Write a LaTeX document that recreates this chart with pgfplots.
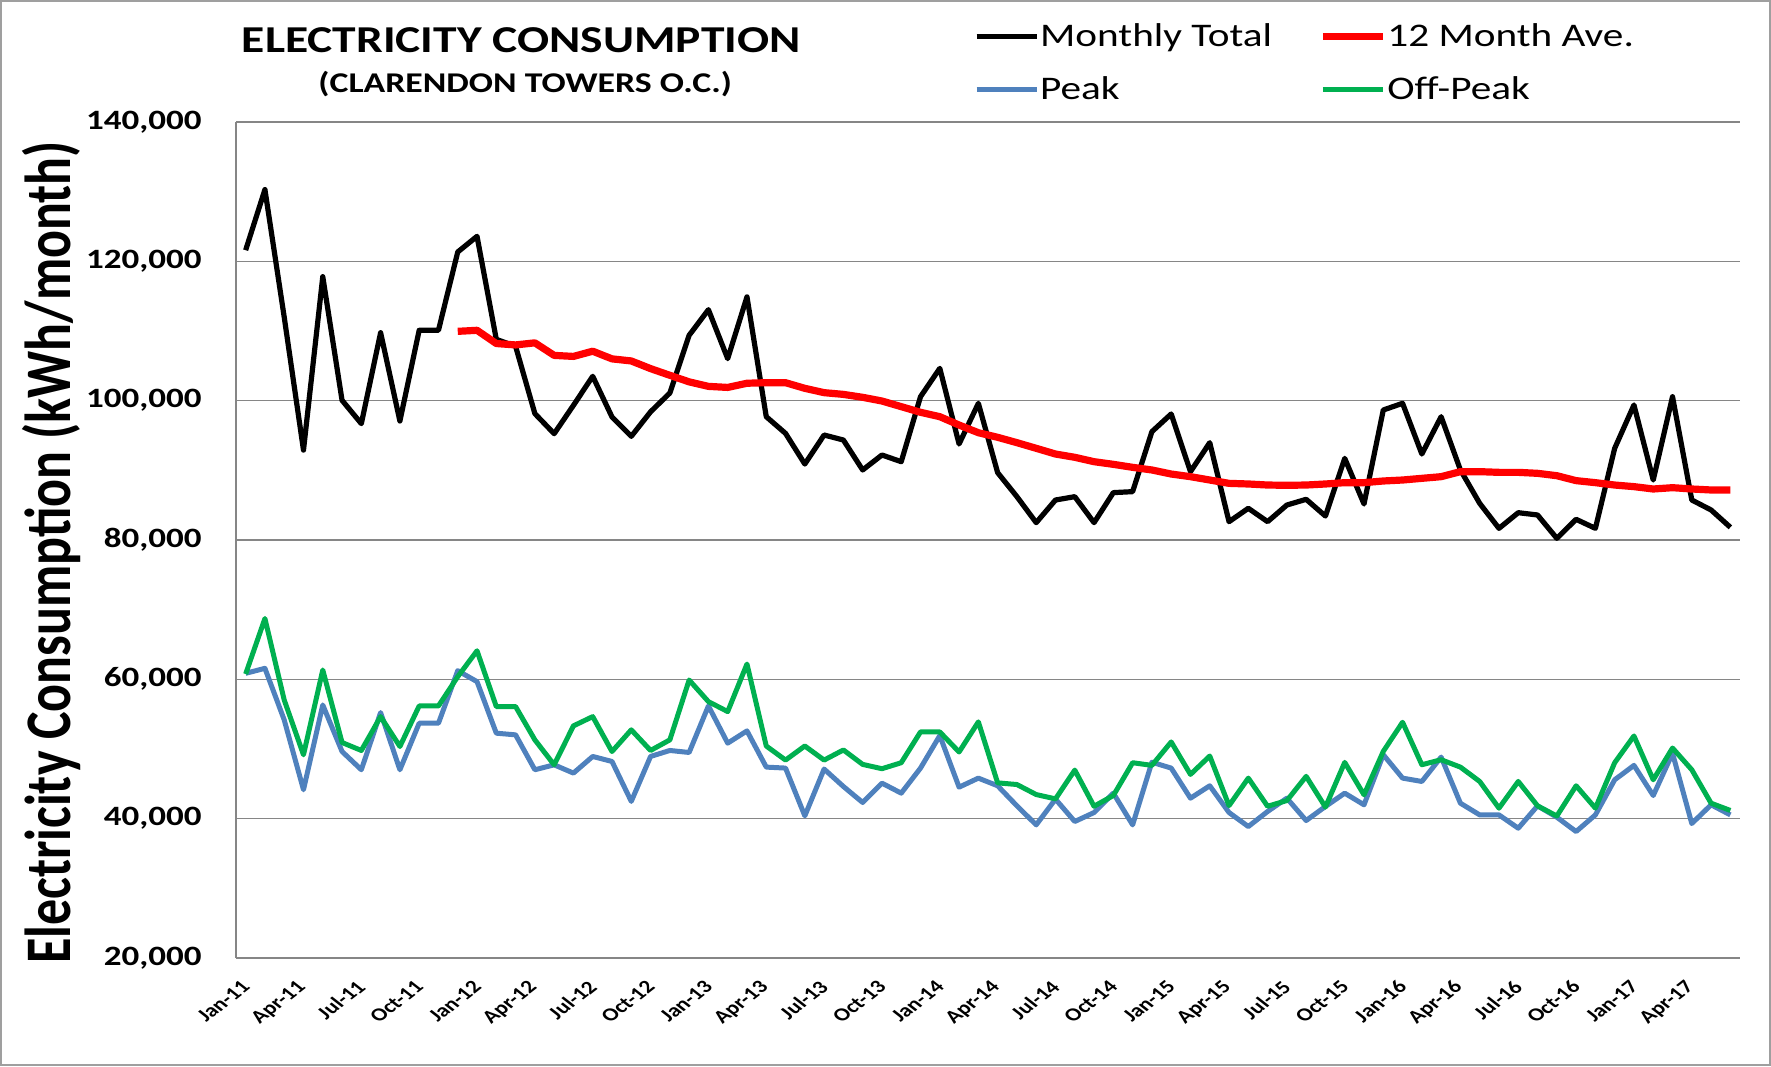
\documentclass[border=0pt]{standalone}
\usepackage{fontspec}
\setmainfont{Carlito}[FakeStretch=1.25]
\newfontfamily\plainfont{Carlito}
\usepackage{graphicx}
\usepackage{pgfplots}
\usepackage{pgfplotstable}
\pgfplotsset{compat=1.18}
\definecolor{peakblue}{RGB}{79,129,189}
\definecolor{offgreen}{RGB}{0,176,80}
\definecolor{avered}{RGB}{255,0,0}
\definecolor{gridgray}{RGB}{134,134,134}
\newcommand{\rl}[1]{\scalebox{1.28}[1]{\rotatebox{45}{#1}}}

\pgfplotstableread{
x total peak offpeak
0 121600 60860 60760
1 130300 61580 68730
2 112000 54180 57040
3 92900 44150 49170
4 117800 56320 61340
5 100050 49640 50930
6 96700 47020 49790
7 109760 55230 54650
8 97080 47020 50360
9 110100 53700 56180
10 110100 53700 56180
11 121340 61240 60380
12 123590 59670 64100
13 108800 52270 56090
14 107800 52030 56090
15 98140 47020 51310
16 95260 47730 47730
17 99330 46540 53320
18 103500 48930 54650
19 97660 48210 49640
20 94880 42480 52750
21 98400 48930 49790
22 101100 49790 51310
23 109380 49500 59900
24 113060 56180 56800
25 106030 50840 55370
26 114900 52600 62200
27 97700 47400 50430
28 95300 47260 48410
29 90900 40400 50430
30 95070 47120 48410
31 94350 44620 49860
32 90050 42320 47790
33 92200 45100 47170
34 91240 43660 48030
35 100570 47260 52450
36 104640 51920 52450
37 93780 44520 49570
38 99620 45820 53890
39 89670 44720 45140
40 86220 41840 44900
41 82490 39110 43460
42 85740 42800 42840
43 86220 39590 46970
44 82490 40880 41780
45 86800 43660 43320
46 86940 39110 48030
47 95550 48100 47650
48 98090 47260 51010
49 89810 42940 46350
50 93970 44720 48990
51 82630 40880 41870
52 84550 38870 45820
53 82630 41030 41780
54 85020 42940 42600
55 85840 39730 46070
56 83440 41750 41660
57 91720 43660 48080
58 85170 41990 43420
59 98660 49180 49660
60 99620 45820 53840
61 92340 45340 47740
62 97700 48840 48460
63 90050 42220 47400
64 85260 40540 45340
65 81670 40540 41510
66 83920 38630 45340
67 83590 41840 41840
68 80240 40210 40380
69 82970 38150 44720
70 81670 40540 41510
71 93160 45580 48030
72 99380 47650 51870
73 88610 43320 45580
74 100570 49380 50140
75 85740 39300 47020
76 84310 41990 42220
77 81820 40540 41180
}\mainTable

\pgfplotstableread{
x ave
11 109950
12 110100
13 108200
14 108000
15 108300
16 106500
17 106350
18 107100
19 106000
20 105700
21 104600
22 103640
23 102700
24 102050
25 101900
26 102500
27 102580
28 102580
29 101770
30 101150
31 100900
32 100480
33 99950
34 99140
35 98330
36 97700
37 96500
38 95400
39 94740
40 93970
41 93160
42 92340
43 91870
44 91240
45 90860
46 90430
47 90050
48 89470
49 89090
50 88610
51 88130
52 88040
53 87890
54 87850
55 87890
56 88040
57 88230
58 88230
59 88470
60 88610
61 88850
62 89090
63 89810
64 89810
65 89710
66 89710
67 89570
68 89230
69 88520
70 88230
71 87890
72 87660
73 87320
74 87510
75 87320
76 87180
77 87180
}\aveTable

\begin{document}
\begin{tikzpicture}
\useasboundingbox (0,0) rectangle (885.5pt,533pt);
\draw[draw=gray!75, line width=1.2pt] (0.6pt,0.6pt) rectangle (884.9pt,532.4pt);
\begin{axis}[
  at={(118pt,54pt)}, anchor=south west,
  scale only axis, width=752pt, height=418pt,
  xmin=-0.5, xmax=77.5, ymin=20000, ymax=140000,
  clip=false,
  axis x line*=bottom, axis y line*=left,
  axis line style={draw=gridgray, line width=0.8pt, -},
  ymajorgrids, grid style={draw=gridgray, line width=0.8pt},
  major tick length=0pt,
  ytick={20000,40000,60000,80000,100000,120000,140000},
  scaled y ticks=false,
  /pgf/number format/.cd, fixed, precision=0, 1000 sep={,}, assume math mode=true, /pgfplots/.cd,
  yticklabel style={font=\bfseries\fontsize{14}{16}\selectfont, inner sep=0pt, xshift=-17pt},
  xtick={0,3,...,75},
  xticklabels={\rl{Jan-11},\rl{Apr-11},\rl{Jul-11},\rl{Oct-11},\rl{Jan-12},\rl{Apr-12},\rl{Jul-12},\rl{Oct-12},\rl{Jan-13},\rl{Apr-13},\rl{Jul-13},\rl{Oct-13},\rl{Jan-14},\rl{Apr-14},\rl{Jul-14},\rl{Oct-14},\rl{Jan-15},\rl{Apr-15},\rl{Jul-15},\rl{Oct-15},\rl{Jan-16},\rl{Apr-16},\rl{Jul-16},\rl{Oct-16},\rl{Jan-17},\rl{Apr-17}},
  x tick label style={font=\plainfont\bfseries\fontsize{9.2}{11}\selectfont, inner sep=0pt, anchor=north east, xshift=3pt, yshift=-10.5pt},
  ylabel={Electricity Consumption (kWh/month)},
  every axis y label/.style={at={(axis description cs:-0.123,0.485)}, anchor=center, font=\plainfont\bfseries\fontsize{26}{28}\selectfont, xscale=1.25, rotate=90},
  legend columns=2,
  legend style={at={(axis description cs:0.4904,1.0215)}, anchor=south west, draw=none, fill=none, inner sep=0pt,
    font=\fontsize{16.5}{18}\selectfont, row sep=12.5pt,
    nodes={inner sep=0.5pt},
    /tikz/every even column/.append style={column sep=23pt}},
  legend cell align=left,
  legend image code/.code={\draw[#1] (0pt,0pt) -- (30pt,0pt);},
]
\addplot[black, line width=2.6pt, line join=round, mark=none] table[x=x, y=total] {\mainTable};
\addlegendentry{Monthly Total}
\addplot[avered, line width=3.6pt, line join=round, mark=none] table[x=x, y=ave] {\aveTable};
\addlegendentry{12 Month Ave.}
\addplot[peakblue, line width=2.5pt, line join=round, mark=none] table[x=x, y=peak] {\mainTable};
\addlegendentry{Peak}
\addplot[offgreen, line width=2.5pt, line join=round, mark=none] table[x=x, y=offpeak] {\mainTable};
\addlegendentry{Off-Peak}
\node[font=\bfseries\fontsize{19}{22}\selectfont, anchor=base] at (axis description cs:0.1896,1.0837) {ELECTRICITY CONSUMPTION};
\node[font=\bfseries\fontsize{14.3}{16}\selectfont, anchor=base] at (axis description cs:0.1923,1.0352) {(CLARENDON TOWERS O.C.)};
\end{axis}
\end{tikzpicture}
\end{document}
